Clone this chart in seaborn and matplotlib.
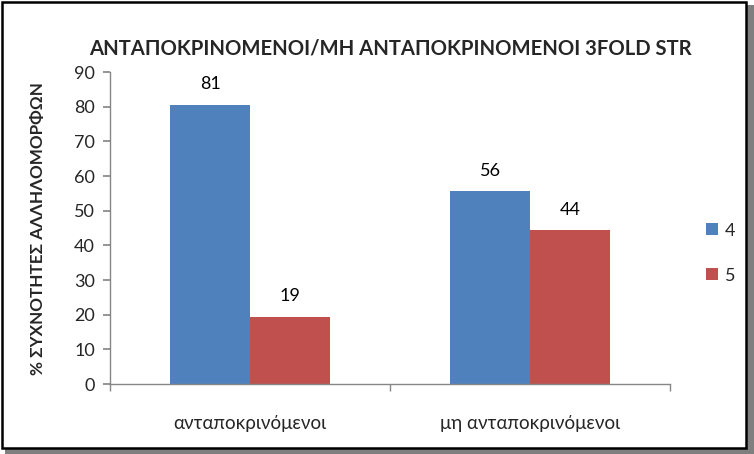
import matplotlib
matplotlib.use("Agg")
import matplotlib.pyplot as plt
import seaborn as sns
import pandas as pd
from matplotlib.patches import Rectangle

categories = ["ανταποκρινόμενοι", "μη ανταποκρινόμενοι"]
series_names = ["4", "5"]
values_4 = [80.6, 55.6]
values_5 = [19.4, 44.4]
labels_4 = ["81", "56"]
labels_5 = ["19", "44"]
yticks = [0, 10, 20, 30, 40, 50, 60, 70, 80, 90]

df = pd.DataFrame({
    "cat": categories * 2,
    "series": [series_names[0]] * 2 + [series_names[1]] * 2,
    "value": values_4 + values_5,
})

sns.set_theme(style="white")
plt.rcParams["font.family"] = ["Lato", "DejaVu Sans"]

fig = plt.figure(figsize=(7.54, 4.54), dpi=100)
ax = fig.add_axes([0.146, 0.154, 0.743, 0.687])

palette = {"4": "#4F81BD", "5": "#C0504D"}
sns.barplot(data=df, x="cat", y="value", hue="series", palette=palette,
            width=0.572, saturation=1, ax=ax, legend=True, linewidth=0)

for cont, labs in zip(ax.containers, [labels_4, labels_5]):
    ax.bar_label(cont, labels=labs, padding=9, fontsize=13, color="#000000")

ax.set_ylim(0, 90)
ax.set_xlim(-0.5, 1.5)
ax.set_yticks(yticks)
ax.set_yticklabels([str(t) for t in yticks], fontsize=13)
ax.set_xticks([0, 1])
ax.set_xticklabels(categories, fontsize=13.5)
ax.tick_params(axis="x", which="major", length=0, pad=22)
ax.set_xticks([-0.5, 0.5, 1.5], minor=True)
ax.tick_params(axis="x", which="minor", length=5, color="#868686", direction="out", bottom=True)
ax.tick_params(axis="y", length=5, color="#868686", direction="out", left=True, pad=6)
for s in ["top", "right"]:
    ax.spines[s].set_visible(False)
for s in ["left", "bottom"]:
    ax.spines[s].set_color("#868686")
    ax.spines[s].set_linewidth(1)
ax.set_xlabel("")
ax.set_ylabel("% ΣΥΧΝΟΤΗΤΕΣ ΑΛΛΗΛΟΜΟΡΦΩΝ", fontsize=12.3, fontweight="bold", labelpad=20)
ax.set_title("ΑΝΤΑΠΟΚΡΙΝΟΜΕΝΟΙ/ΜΗ ΑΝΤΑΠΟΚΡΙΝΟΜΕΝΟΙ 3FOLD STR", fontsize=14.6,
             fontweight="bold", pad=13, x=0.5)

leg = ax.legend(loc="center left", bbox_to_anchor=(1.035, 0.42), frameon=False,
                fontsize=13, handlelength=0.65, handleheight=0.65, labelspacing=1.6,
                handletextpad=0.4, title=None)

# figure border with shadow
fig.patches.append(Rectangle((0.006, 0.0), 0.994, 0.99, transform=fig.transFigure,
                             facecolor="#7f7f7f", edgecolor="none", zorder=-2))
fig.patches.append(Rectangle((0.002, 0.013), 0.988, 0.983, transform=fig.transFigure,
                             facecolor="white", edgecolor="black", linewidth=1.8, zorder=-1))

fig.savefig("out.png", dpi=100)
